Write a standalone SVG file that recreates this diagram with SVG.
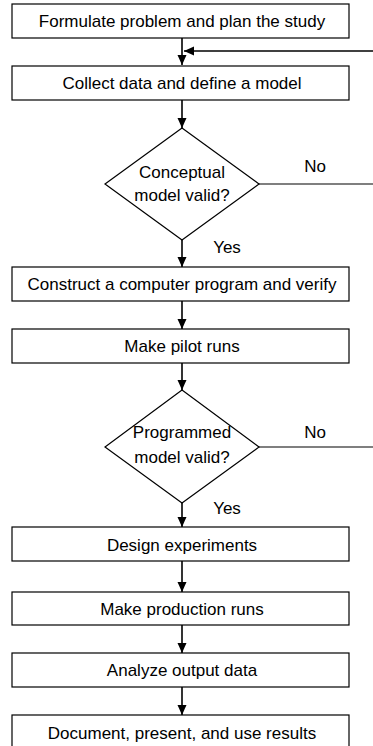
<svg xmlns="http://www.w3.org/2000/svg" width="373" height="746" viewBox="0 0 373 746">
  <style>
    .box { fill: #fff; stroke: #000; stroke-width: 1.2; }
    .dia { fill: #fff; stroke: #000; stroke-width: 1.2; }
    .lbl { font-family: "Liberation Sans", Arial, sans-serif; font-size: 17px; fill: #000; text-anchor: middle; }
    .edge { fill: none; stroke: #000; stroke-width: 1.6; }
    .thin { fill: none; stroke: #000; stroke-width: 1.2; }
  </style>
  <defs>
    <marker id="arrow" viewBox="0 0 10 10" refX="10" refY="5" markerWidth="10" markerHeight="10" markerUnits="userSpaceOnUse" orient="auto">
      <path d="M0,0.5 L10,5 L0,9.5 Z" fill="#000"/>
    </marker>
  </defs>

  <rect width="373" height="746" fill="#fff"/>

  <g id="connectors">
    <line class="edge" x1="182" y1="38" x2="182" y2="65" marker-end="url(#arrow)"/>
    <line class="edge" x1="373" y1="51" x2="184" y2="51" marker-end="url(#arrow)"/>
    <line class="edge" x1="182" y1="100" x2="182" y2="128" marker-end="url(#arrow)"/>
    <line class="thin" x1="259" y1="184" x2="373" y2="184"/>
    <line class="edge" x1="182" y1="240" x2="182" y2="267" marker-end="url(#arrow)"/>
    <line class="edge" x1="182" y1="301" x2="182" y2="329" marker-end="url(#arrow)"/>
    <line class="edge" x1="182" y1="363" x2="182" y2="390" marker-end="url(#arrow)"/>
    <line class="thin" x1="259" y1="447" x2="373" y2="447"/>
    <line class="edge" x1="182" y1="503" x2="182" y2="527" marker-end="url(#arrow)"/>
    <line class="edge" x1="182" y1="561" x2="182" y2="592" marker-end="url(#arrow)"/>
    <line class="edge" x1="182" y1="625" x2="182" y2="653" marker-end="url(#arrow)"/>
    <line class="edge" x1="182" y1="687" x2="182" y2="715" marker-end="url(#arrow)"/>
    <text class="lbl" x="315" y="172">No</text>
    <text class="lbl" x="227" y="253">Yes</text>
    <text class="lbl" x="315" y="438">No</text>
    <text class="lbl" x="227" y="514">Yes</text>
  </g>

  <g id="formulate">
    <rect class="box" x="12" y="4" width="337" height="34"/>
    <text class="lbl" x="182" y="27">Formulate problem and plan the study</text>
  </g>
  <g id="collect">
    <rect class="box" x="12" y="66" width="337" height="34"/>
    <text class="lbl" x="182" y="89">Collect data and define a model</text>
  </g>
  <g id="conceptual-valid">
    <polygon class="dia" points="182,128 259,184 182,240 105,184"/>
    <text class="lbl" x="182" y="178">Conceptual</text>
    <text class="lbl" x="182" y="201">model valid?</text>
  </g>
  <g id="construct">
    <rect class="box" x="12" y="267" width="337" height="34"/>
    <text class="lbl" x="182" y="290">Construct a computer program and verify</text>
  </g>
  <g id="pilot">
    <rect class="box" x="12" y="329" width="337" height="34"/>
    <text class="lbl" x="182" y="352">Make pilot runs</text>
  </g>
  <g id="programmed-valid">
    <polygon class="dia" points="182,390 259,447 182,503 105,447"/>
    <text class="lbl" x="182" y="438">Programmed</text>
    <text class="lbl" x="182" y="463">model valid?</text>
  </g>
  <g id="design">
    <rect class="box" x="12" y="527" width="337" height="34"/>
    <text class="lbl" x="182" y="551">Design experiments</text>
  </g>
  <g id="production">
    <rect class="box" x="12" y="592" width="337" height="33"/>
    <text class="lbl" x="182" y="615">Make production runs</text>
  </g>
  <g id="analyze">
    <rect class="box" x="12" y="653" width="337" height="34"/>
    <text class="lbl" x="182" y="676">Analyze output data</text>
  </g>
  <g id="document">
    <rect class="box" x="12" y="715" width="337" height="34"/>
    <text class="lbl" x="182" y="739">Document, present, and use results</text>
  </g>
</svg>
